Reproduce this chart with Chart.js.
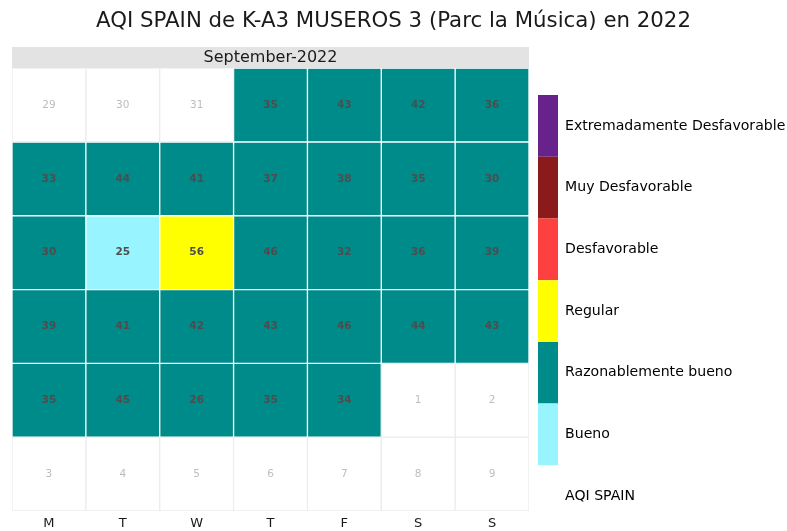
<!DOCTYPE html>
<html>
<head>
<meta charset="utf-8">
<script src="https://cdn.jsdelivr.net/npm/chart.js@4.4.0/dist/chart.umd.min.js"></script>
<style>
  html, body { margin: 0; padding: 0; background: #ffffff; }
</style>
</head>
<body>
<canvas id="calendar" width="787" height="531"></canvas>
<script>
const chartTitle = 'AQI SPAIN de K-A3 MUSEROS 3 (Parc la Música) en 2022';
const monthLabel = 'September-2022';
const weekdays = ['M', 'T', 'W', 'T', 'F', 'S', 'S'];
const legendTitle = 'AQI SPAIN';
const levelNames = ['Extremadamente Desfavorable', 'Muy Desfavorable', 'Desfavorable', 'Regular', 'Razonablemente bueno', 'Bueno'];
const levelColors = ['#68228B', '#8B1A1A', '#FF4040', '#FFFF00', '#008B8B', '#98F5FF'];

// calendar cells, 6 weeks, monday first
const dayNumbers = [
  29, 30, 31, 1, 2, 3, 4,
  5, 6, 7, 8, 9, 10, 11,
  12, 13, 14, 15, 16, 17, 18,
  19, 20, 21, 22, 23, 24, 25,
  26, 27, 28, 29, 30, 1, 2,
  3, 4, 5, 6, 7, 8, 9
];
const aqiValues = [
  null, null, null, 35, 43, 42, 36,
  33, 44, 41, 37, 38, 35, 30,
  30, 25, 56, 46, 32, 36, 39,
  39, 41, 42, 43, 46, 44, 43,
  35, 45, 26, 35, 34, null, null,
  null, null, null, null, null, null, null
];
// index in levelNames (null = day outside the month)
const aqiLevels = [
  null, null, null, 4, 4, 4, 4,
  4, 4, 4, 4, 4, 4, 4,
  4, 5, 3, 4, 4, 4, 4,
  4, 4, 4, 4, 4, 4, 4,
  4, 4, 4, 4, 4, null, null,
  null, null, null, null, null, null, null
];

const nWeeks = dayNumbers.length / 7;
const datasets = [];
for (let w = 0; w < nWeeks; w++) {
  const cells = weekdays.map((d, i) => w * 7 + i);
  datasets.push({
    label: 'week ' + (w + 1),
    data: cells.map(() => [w, w + 1]),
    backgroundColor: cells.map(k => aqiLevels[k] == null ? '#ffffff' : levelColors[aqiLevels[k]]),
    borderColor: cells.map(k => aqiLevels[k] == null ? '#ececec' : 'rgba(255,255,255,0.3)'),
    borderWidth: 1,
    borderSkipped: false,
    grouped: false,
    barPercentage: 1,
    categoryPercentage: 1,
    cells: cells
  });
}

const cellLabels = {
  id: 'cellLabels',
  afterDatasetsDraw(chart) {
    const ctx = chart.ctx;
    ctx.save();
    ctx.textAlign = 'center';
    ctx.textBaseline = 'middle';
    chart.data.datasets.forEach((ds, di) => {
      chart.getDatasetMeta(di).data.forEach((bar, i) => {
        const k = ds.cells[i];
        const cy = (bar.y + bar.base) / 2;
        if (aqiValues[k] == null) {
          ctx.font = '10.5px "DejaVu Sans"';
          ctx.fillStyle = '#bdbdbd';
          ctx.fillText(dayNumbers[k], bar.x, cy);
        } else {
          ctx.font = 'bold 10.5px "DejaVu Sans"';
          ctx.fillStyle = '#4d4d4d';
          ctx.fillText(aqiValues[k], bar.x, cy);
        }
      });
    });
    ctx.restore();
  }
};

Chart.defaults.font.family = '"DejaVu Sans"';
Chart.defaults.color = '#1a1a1a';

new Chart(document.getElementById('calendar'), {
  type: 'bar',
  data: { labels: weekdays, datasets: datasets },
  options: {
    responsive: false,
    animation: false,
    layout: { padding: { left: 0, right: 0, top: 0, bottom: 4 } },
    plugins: {
      title: {
        display: true,
        text: chartTitle,
        color: '#1a1a1a',
        font: { size: 21.3, weight: 'normal' },
        padding: { top: 9, bottom: 12.4 }
      },
      legend: {
        position: 'right',
        align: 'end',
        maxWidth: 249,
        onClick: null,
        labels: {
          boxWidth: 20,
          boxHeight: 61.7,
          padding: 0,
          color: '#1a1a1a',
          font: { size: 14.1 },
          generateLabels: () => levelNames.map((name, i) => ({
            text: name,
            fillStyle: levelColors[i],
            strokeStyle: levelColors[i],
            lineWidth: 0
          })).concat([{
            text: legendTitle,
            fillStyle: 'rgba(0,0,0,0)',
            strokeStyle: 'rgba(0,0,0,0)',
            lineWidth: 0
          }])
        }
      },
      tooltip: { enabled: false }
    },
    scales: {
      x: {
        type: 'category',
        grid: { display: false, drawTicks: false },
        border: { display: false },
        ticks: { color: '#1a1a1a', font: { size: 13 }, padding: 5 },
        afterFit: s => { s.height = 16; }
      },
      x2: {
        type: 'category',
        position: 'top',
        labels: weekdays,
        backgroundColor: '#e3e3e3',
        grid: { display: false, drawTicks: false },
        border: { display: false },
        ticks: { display: false },
        title: {
          display: true,
          text: monthLabel,
          color: '#1a1a1a',
          font: { size: 16 },
          padding: { top: 1, bottom: 1 }
        }
      },
      y: {
        type: 'linear',
        display: false,
        min: 0,
        max: nWeeks,
        reverse: true,
        afterFit: s => { s.width = 12; }
      },
      y2: {
        type: 'linear',
        position: 'right',
        display: false,
        afterFit: s => { s.width = 9; }
      }
    }
  },
  plugins: [cellLabels]
});
</script>
</body>
</html>
